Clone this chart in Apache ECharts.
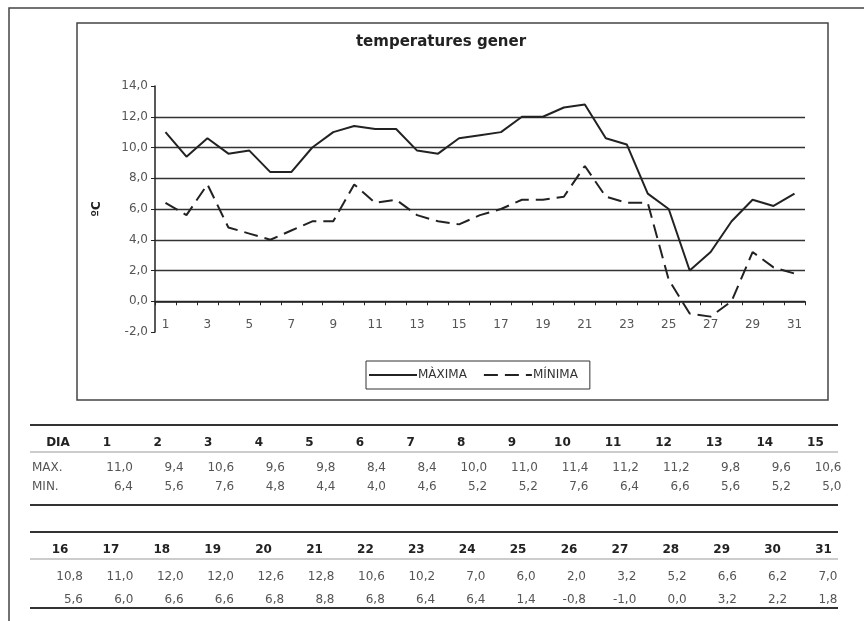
<!DOCTYPE html>
<html>
<head>
<meta charset="utf-8">
<title>temperatures gener</title>
<script src="https://cdn.jsdelivr.net/npm/echarts@6/dist/echarts.min.js"></script>
<style>
  html, body { margin: 0; padding: 0; background: #fff; }
  #chart { width: 864px; height: 621px; }
</style>
</head>
<body>
<div id="chart"></div>
<script>
// dies del mes
const days = ['1','2','3','4','5','6','7','8','9','10','11','12','13','14','15','16',
  '17','18','19','20','21','22','23','24','25','26','27','28','29','30','31']
const maxVals = [11.0, 9.4, 10.6, 9.6, 9.8, 8.4, 8.4, 10.0, 11.0, 11.4, 11.2, 11.2, 9.8, 9.6, 10.6, 10.8,
  11.0, 12.0, 12.0, 12.6, 12.8, 10.6, 10.2, 7.0, 6.0, 2.0, 3.2, 5.2, 6.6, 6.2, 7.0]
const minVals = [6.4, 5.6, 7.6, 4.8, 4.4, 4.0, 4.6, 5.2, 5.2, 7.6, 6.4, 6.6, 5.6, 5.2, 5.0, 5.6,
  6.0, 6.6, 6.6, 6.8, 8.8, 6.8, 6.4, 6.4, 1.4, -0.8, -1.0, 0.0, 3.2, 2.2, 1.8]
const yTicks = [-2, 0, 2, 4, 6, 8, 10, 12, 14]

const fmt = v => v.toFixed(1).replace('.', ',')
const ink = '#222'
const grey = '#555'
const font = 'DejaVu Sans'

// taula de valors sota el grafic (dos blocs: 1-15 i 16-31)
// rows = [top, capcalera, linia, max, min, baix]
function tableBlock(from, to, rows, headX, headStep, valX, valStep, withRowNames) {
  const els = []
  const x1 = 30, x2 = 838
  const [yTop, yHead, yLine, yMax, yMin, yBot] = rows
  els.push({ type: 'line', shape: { x1, y1: yTop, x2, y2: yTop }, style: { stroke: '#333', lineWidth: 2 } })
  els.push({ type: 'line', shape: { x1, y1: yLine, x2, y2: yLine }, style: { stroke: '#999', lineWidth: 1 } })
  els.push({ type: 'line', shape: { x1, y1: yBot, x2, y2: yBot }, style: { stroke: '#333', lineWidth: 2 } })
  const head = 'bold 12px "' + font + '"'
  const body = '12px "' + font + '"'
  if (withRowNames) {
    els.push({ type: 'text', x: 58, y: yHead, style: { text: 'DIA', font: head, fill: ink, align: 'center', verticalAlign: 'middle' } })
    els.push({ type: 'text', x: 32, y: yMax, style: { text: 'MAX.', font: body, fill: grey, verticalAlign: 'middle' } })
    els.push({ type: 'text', x: 32, y: yMin, style: { text: 'MIN.', font: body, fill: grey, verticalAlign: 'middle' } })
  }
  for (let i = from; i < to; i++) {
    const k = i - from
    els.push({ type: 'text', x: headX + k * headStep, y: yHead,
      style: { text: days[i], font: head, fill: ink, align: 'center', verticalAlign: 'middle' } })
    els.push({ type: 'text', x: valX + k * valStep, y: yMax,
      style: { text: fmt(maxVals[i]), font: body, fill: grey, align: 'right', verticalAlign: 'middle' } })
    els.push({ type: 'text', x: valX + k * valStep, y: yMin,
      style: { text: fmt(minVals[i]), font: body, fill: grey, align: 'right', verticalAlign: 'middle' } })
  }
  return els
}

const chart = echarts.init(document.getElementById('chart'))

chart.setOption({
  backgroundColor: '#fff',
  animation: false,
  title: {
    text: 'temperatures gener',
    left: 436,
    top: 30,
    textAlign: 'center',
    textStyle: { fontFamily: font, fontSize: 15, fontWeight: 'bold', color: ink }
  },
  legend: {
    data: ['MÀXIMA', 'MÍNIMA'],
    left: 366,
    top: 361,
    padding: [8, 12, 8, 2],
    itemGap: 16,
    itemWidth: 48,
    itemHeight: 10,
    itemStyle: { opacity: 0 },
    borderColor: '#333',
    borderWidth: 1,
    borderRadius: 0,
    textStyle: { fontFamily: font, fontSize: 12, color: '#333', padding: [0, 0, 0, -4] }
  },
  grid: { left: 155, right: 59, top: 86, bottom: 289, containLabel: false },
  xAxis: {
    type: 'category',
    data: days,
    boundaryGap: true,
    axisLine: { onZero: true, lineStyle: { color: ink, width: 1.5 } },
    axisTick: { show: true, interval: 0, length: 4, lineStyle: { color: ink } },
    axisLabel: { interval: 1, margin: -13, fontFamily: font, fontSize: 12, color: grey },
    splitLine: { show: false }
  },
  yAxis: {
    type: 'value',
    min: -2,
    max: 14,
    interval: 2,
    name: 'ºC',
    nameLocation: 'middle',
    nameGap: 52,
    nameRotate: 90,
    nameTextStyle: { fontFamily: font, fontSize: 12, fontWeight: 'bold', color: ink },
    axisLine: { show: true, lineStyle: { color: ink, width: 1.5 } },
    axisTick: { show: true, length: 4, lineStyle: { color: ink } },
    axisLabel: { formatter: v => fmt(v), margin: 7, fontFamily: font, fontSize: 12, color: grey },
    // linies de la graella de 0 a 12, sense la de -2 ni la de 14
    splitLine: {
      show: true,
      lineStyle: {
        width: 1.3,
        color: yTicks.map(t => (t > -2 && t < 14 ? '#333' : 'rgba(0,0,0,0)'))
      }
    }
  },
  series: [{
    name: 'MÀXIMA',
    type: 'line',
    data: maxVals,
    symbol: 'none',
    lineStyle: { color: ink, width: 2 },
    itemStyle: { color: ink }
  }, {
    name: 'MÍNIMA',
    type: 'line',
    data: minVals,
    symbol: 'none',
    lineStyle: { color: ink, width: 2, type: [14, 7] },
    itemStyle: { color: ink }
  }],
  graphic: [
    // marc exterior
    { type: 'polyline', shape: { points: [[9, 621], [9, 8], [864, 8]] }, style: { stroke: '#444', lineWidth: 1.5, fill: null } },
    // marc del grafic
    { type: 'rect', shape: { x: 77, y: 23, width: 751, height: 377 }, style: { stroke: '#444', lineWidth: 1.5, fill: null } },
    ...tableBlock(0, 15, [425, 443, 452, 468, 487, 505], 107, 50.6, 133, 50.6, true),
    ...tableBlock(15, 31, [532, 550, 559, 577, 600, 608], 60, 50.9, 83, 50.3, false)
  ]
})
</script>
</body>
</html>
